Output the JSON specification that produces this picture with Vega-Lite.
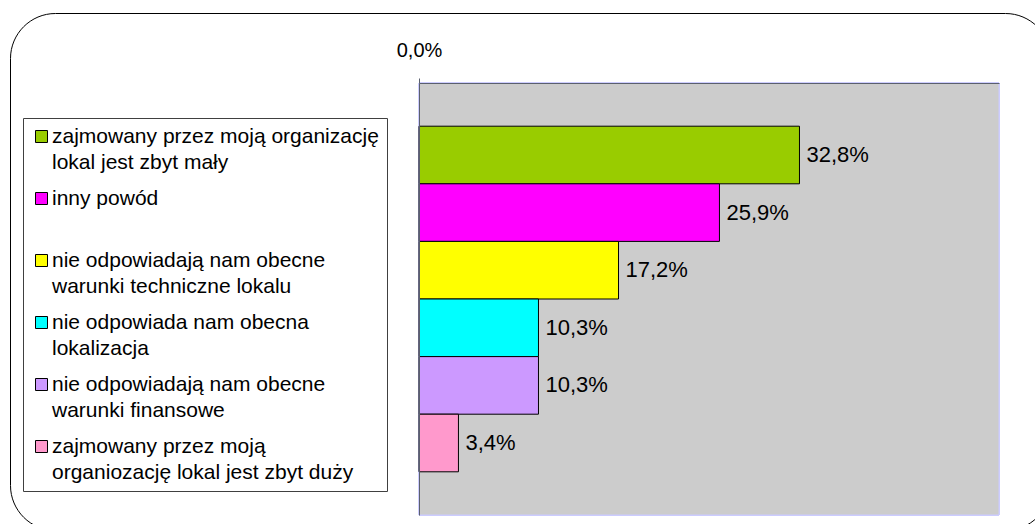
{
  "$schema": "https://vega.github.io/schema/vega-lite/v6.json",
  "autosize": {"type": "none"},
  "width": 1040,
  "height": 517,
  "padding": {"left": 10, "top": 13, "right": -15, "bottom": -6},
  "background": "white",
  "view": {"cornerRadius": 45, "stroke": "black", "strokeWidth": 1, "fill": "white"},
  "config": {
    "font": "Liberation Sans",
    "locale": {"number": {"decimal": ",", "thousands": " ", "grouping": [3], "currency": ["", " zł"]}}
  },
  "data": {
    "values": [
      {"powod": "zajmowany przez moją organizację\nlokal jest zbyt mały", "udzial": 0.328},
      {"powod": "inny powód", "udzial": 0.259},
      {"powod": "nie odpowiadają nam obecne\nwarunki techniczne lokalu", "udzial": 0.172},
      {"powod": "nie odpowiada nam obecna\nlokalizacja", "udzial": 0.103},
      {"powod": "nie odpowiadają nam obecne\nwarunki finansowe", "udzial": 0.103},
      {"powod": "zajmowany przez moją\norganiozację lokal jest zbyt duży", "udzial": 0.034}
    ]
  },
  "layer": [
    {
      "mark": {"type": "rect", "fill": "#cccccc", "stroke": "#ccccff", "strokeWidth": 1},
      "encoding": {
        "x": {
          "datum": 0,
          "type": "quantitative",
          "scale": {"domain": [0, 0.5], "range": [409, 989], "nice": false},
          "axis": {
            "orient": "top",
            "offset": -70,
            "values": [0],
            "format": ".1%",
            "title": null,
            "grid": false,
            "zindex": 1,
            "tickSize": 5,
            "tickColor": "#5a5f6e",
            "domainColor": "#5a5f6e",
            "labelFlush": false,
            "labelFontSize": 20,
            "labelColor": "black",
            "labelPadding": 18,
            "labelFont": "Liberation Sans"
          }
        },
        "x2": {"datum": 0.5},
        "y": {
          "datum": 0,
          "type": "quantitative",
          "scale": {"domain": [0, 1], "range": [70, 502], "nice": false, "zero": false},
          "axis": null
        },
        "y2": {"datum": 1}
      }
    },
    {
      "layer": [
        {
          "mark": {"type": "bar", "stroke": "black", "strokeWidth": 1},
          "encoding": {
            "x": {
              "field": "udzial",
              "type": "quantitative",
              "scale": {"domain": [0, 0.5], "range": [409, 989], "nice": false}
            },
            "y": {
              "field": "powod",
              "type": "nominal",
              "sort": null,
              "scale": {"range": [70, 502], "paddingInner": 0, "paddingOuter": 0.75},
              "axis": {
                "orient": "left",
                "offset": -409,
                "labels": false,
                "ticks": false,
                "title": null,
                "grid": false,
                "zindex": 1,
                "domain": true,
                "domainColor": "#5a5f6e"
              }
            },
            "color": {
              "field": "powod",
              "type": "nominal",
              "sort": null,
              "scale": {
                "range": ["#99cc00", "#ff00ff", "#ffff00", "#00ffff", "#cc99ff", "#ff99cc"]
              },
              "legend": {
                "orient": "none",
                "legendX": 13,
                "legendY": 105,
                "title": null,
                "strokeColor": "#404040",
                "fillColor": "white",
                "padding": 8,
                "symbolType": "square",
                "symbolSize": 144,
                "symbolStrokeColor": "black",
                "symbolStrokeWidth": 1,
                "symbolOpacity": 1,
                "labelFontSize": 21,
                "labelFont": "Liberation Sans",
                "labelColor": "black",
                "labelLimit": 600,
                "labelOffset": 0,
                "labelExpr": "split(datum.label, '\\n')",
                "columns": 1,
                "gridAlign": "all",
                "rowPadding": 14,
                "encoding": {"labels": {"lineHeight": {"value": 26}}}
              }
            }
          }
        },
        {
          "mark": {"type": "text", "align": "left", "baseline": "middle", "dx": 7, "fontSize": 22, "font": "Liberation Sans", "color": "black"},
          "encoding": {
            "x": {
              "field": "udzial",
              "type": "quantitative",
              "scale": {"domain": [0, 0.5], "range": [409, 989], "nice": false}
            },
            "y": {
              "field": "powod",
              "type": "nominal",
              "sort": null,
              "scale": {"range": [70, 502], "paddingInner": 0, "paddingOuter": 0.75}
            },
            "text": {"field": "udzial", "type": "quantitative", "format": ".1%"}
          }
        }
      ]
    }
  ],
  "resolve": {"scale": {"y": "independent"}, "axis": {"y": "independent"}}
}
